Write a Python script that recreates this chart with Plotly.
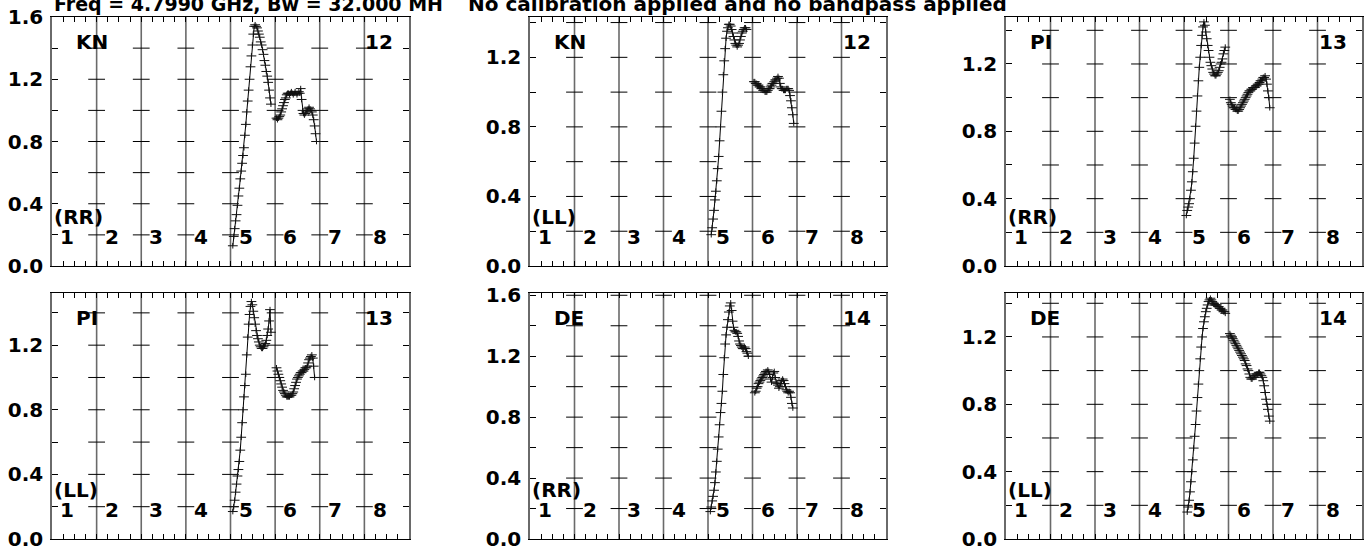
import plotly.graph_objects as go

# ---------------- data ----------------
N_CHAN = 48                     # channels per IF
IF_NAMES = ["1", "2", "3", "4", "5", "6", "7", "8"]
TITLE_LEFT = "Freq = 4.7990 GHz, Bw = 32.000 MH"
TITLE_RIGHT = "No calibration applied and no bandpass applied"

ANTENNAS = ["KN", "KN", "PI", "PI", "DE", "DE"]
ANT_NUMS = ["12", "12", "13", "13", "14", "14"]
POLS = ["(RR)", "(LL)", "(RR)", "(LL)", "(RR)", "(LL)"]
Y_MAX = [1.60, 1.432, 1.479, 1.523, 1.615, 1.461]

# first channel index of each plotted segment
KN_RR_IF5_FIRST, KN_RR_IF6_FIRST = 2, 1
KN_LL_IF5_FIRST, KN_LL_IF6_FIRST = 3, 1
PI_RR_IF5_FIRST, PI_RR_IF6_FIRST = 2, 1
PI_LL_IF5_FIRST, PI_LL_IF6_FIRST = 2, 1
DE_RR_IF5_FIRST, DE_RR_IF6_FIRST = 2, 2
DE_LL_IF5_FIRST, DE_LL_IF6_FIRST = 3, 1

KN_RR_IF5 = [0.13, 0.19, 0.24, 0.29, 0.33, 0.39, 0.45, 0.50, 0.56, 0.61, 0.66, 0.71, 0.76, 0.84,
             0.91, 0.99, 1.06, 1.13, 1.20, 1.28, 1.35, 1.42, 1.49, 1.54, 1.55, 1.54, 1.53, 1.51,
             1.49, 1.47, 1.44, 1.42, 1.39, 1.36, 1.32, 1.29, 1.25, 1.22, 1.18, 1.13, 1.08, 1.04]
KN_RR_IF6 = [0.95, 0.94, 0.95, 0.96, 0.97, 0.99, 1.01, 1.03, 1.05, 1.07, 1.08, 1.10, 1.11, 1.11,
             1.10, 1.11, 1.12, 1.11, 1.10, 1.11, 1.12, 1.11, 1.10, 1.11, 1.12, 1.11, 1.14, 1.07,
             1.00, 0.98, 0.97, 0.98, 0.99, 1.00, 1.01, 1.02, 1.01, 1.00, 0.99, 0.97, 0.94, 0.90,
             0.85, 0.80]
KN_LL_IF5 = [0.18, 0.22, 0.27, 0.32, 0.38, 0.43, 0.49, 0.56, 0.63, 0.72, 0.80, 0.89, 1.00, 1.10,
             1.18, 1.25, 1.31, 1.35, 1.37, 1.39, 1.39, 1.38, 1.36, 1.34, 1.32, 1.30, 1.28, 1.27,
             1.26, 1.27, 1.28, 1.30, 1.32, 1.34, 1.35, 1.36, 1.37, 1.37, 1.36]
KN_LL_IF6 = [1.06, 1.06, 1.05, 1.05, 1.04, 1.04, 1.03, 1.03, 1.02, 1.02, 1.01, 1.01, 1.00, 1.00,
             1.00, 1.01, 1.02, 1.02, 1.03, 1.04, 1.05, 1.05, 1.06, 1.07, 1.07, 1.08, 1.09, 1.08,
             1.05, 1.03, 1.02, 1.02, 1.01, 1.01, 1.01, 1.02, 1.02, 1.02, 1.01, 0.98, 0.95, 0.91,
             0.87, 0.82]
PI_RR_IF5 = [0.30, 0.33, 0.35, 0.37, 0.40, 0.45, 0.50, 0.56, 0.64, 0.73, 0.83, 0.92, 1.01, 1.10,
             1.18, 1.24, 1.31, 1.37, 1.42, 1.45, 1.43, 1.39, 1.35, 1.31, 1.28, 1.24, 1.21, 1.19,
             1.17, 1.15, 1.14, 1.13, 1.13, 1.14, 1.15, 1.16, 1.18, 1.20, 1.21, 1.23, 1.26, 1.28,
             1.30]
PI_RR_IF6 = [0.99, 0.97, 0.96, 0.95, 0.94, 0.94, 0.93, 0.93, 0.92, 0.92, 0.93, 0.94, 0.95, 0.96,
             0.97, 0.98, 0.99, 1.00, 1.01, 1.02, 1.03, 1.04, 1.04, 1.05, 1.05, 1.06, 1.06, 1.06,
             1.07, 1.07, 1.08, 1.08, 1.09, 1.10, 1.10, 1.11, 1.12, 1.12, 1.13, 1.11, 1.08, 1.04,
             1.00, 0.94]
PI_LL_IF5 = [0.17, 0.20, 0.24, 0.29, 0.34, 0.39, 0.43, 0.48, 0.55, 0.63, 0.72, 0.80, 0.88, 0.95,
             1.02, 1.14, 1.25, 1.33, 1.39, 1.44, 1.47, 1.45, 1.41, 1.37, 1.33, 1.29, 1.26, 1.24,
             1.22, 1.20, 1.19, 1.18, 1.18, 1.19, 1.20, 1.21, 1.23, 1.26, 1.30, 1.35, 1.42, 1.28]
PI_LL_IF6 = [1.06, 1.04, 1.02, 1.00, 0.98, 0.96, 0.94, 0.92, 0.91, 0.90, 0.89, 0.88, 0.88, 0.88,
             0.88, 0.89, 0.89, 0.90, 0.91, 0.93, 0.95, 0.97, 0.99, 1.00, 1.01, 1.02, 1.03, 1.03,
             1.04, 1.04, 1.05, 1.06, 1.06, 1.07, 1.09, 1.11, 1.12, 1.13, 1.14, 1.12, 1.07, 1.00]
DE_RR_IF5 = [0.18, 0.21, 0.25, 0.28, 0.32, 0.37, 0.44, 0.51, 0.59, 0.67, 0.75, 0.83, 0.89, 0.97,
             1.08, 1.19, 1.28, 1.34, 1.39, 1.44, 1.49, 1.53, 1.55, 1.50, 1.43, 1.39, 1.37, 1.36,
             1.36, 1.35, 1.33, 1.30, 1.28, 1.27, 1.26, 1.25, 1.25, 1.26, 1.25, 1.23, 1.22, 1.20]
DE_RR_IF6 = [0.96, 0.97, 0.99, 1.00, 1.02, 1.03, 1.04, 1.05, 1.06, 1.07, 1.08, 1.09, 1.10, 1.10,
             1.11, 1.10, 1.08, 1.05, 1.03, 1.06, 1.09, 1.10, 1.06, 1.03, 1.02, 1.01, 0.99, 1.00,
             1.02, 1.04, 1.05, 1.04, 1.02, 1.00, 0.98, 0.97, 0.96, 0.97, 0.96, 0.93, 0.89, 0.86]
DE_LL_IF5 = [0.16, 0.19, 0.23, 0.28, 0.34, 0.40, 0.47, 0.54, 0.61, 0.68, 0.76, 0.84, 0.92, 1.00,
             1.07, 1.14, 1.20, 1.25, 1.29, 1.32, 1.35, 1.37, 1.39, 1.41, 1.42, 1.43, 1.42, 1.41,
             1.40, 1.40, 1.39, 1.39, 1.39, 1.38, 1.38, 1.37, 1.37, 1.36, 1.36, 1.35, 1.35, 1.34]
DE_LL_IF6 = [1.22, 1.21, 1.20, 1.19, 1.18, 1.17, 1.16, 1.15, 1.14, 1.13, 1.12, 1.11, 1.10, 1.09,
             1.08, 1.07, 1.06, 1.04, 1.03, 1.01, 1.00, 0.98, 0.96, 0.95, 0.95, 0.96, 0.96, 0.97,
             0.97, 0.98, 0.98, 0.99, 0.99, 0.98, 0.97, 0.96, 0.94, 0.91, 0.87, 0.83, 0.80, 0.77,
             0.73, 0.70]

SEGMENTS = [
    [(5, KN_RR_IF5_FIRST, KN_RR_IF5), (6, KN_RR_IF6_FIRST, KN_RR_IF6)],
    [(5, KN_LL_IF5_FIRST, KN_LL_IF5), (6, KN_LL_IF6_FIRST, KN_LL_IF6)],
    [(5, PI_RR_IF5_FIRST, PI_RR_IF5), (6, PI_RR_IF6_FIRST, PI_RR_IF6)],
    [(5, PI_LL_IF5_FIRST, PI_LL_IF5), (6, PI_LL_IF6_FIRST, PI_LL_IF6)],
    [(5, DE_RR_IF5_FIRST, DE_RR_IF5), (6, DE_RR_IF6_FIRST, DE_RR_IF6)],
    [(5, DE_LL_IF5_FIRST, DE_LL_IF5), (6, DE_LL_IF6_FIRST, DE_LL_IF6)],
]

# ---------------- layout geometry (pixels) ----------------
W, H = 1369, 554
COLS_PX = [(52, 409), (530, 886), (1006, 1362)]
ROWS_PX = [(17, 266), (293, 539)]
FONT = dict(family="DejaVu Sans, Liberation Sans, Arial", size=20, color="black", weight="bold")
TITLE_FONT_LEFT = dict(FONT, size=19)
SEP_COLOR = "#6a6a6a"
N_IF = len(IF_NAMES)

fig = go.Figure()
layout = dict(width=W, height=H, margin=dict(l=0, r=0, t=0, b=0, pad=0), autosize=False,
              paper_bgcolor="white", plot_bgcolor="white", showlegend=False)
annotations = []
shapes = []

for p in range(6):
    r, c = divmod(p, 3)
    ax = "" if p == 0 else str(p + 1)
    x0, x1 = COLS_PX[c]
    y0, y1 = ROWS_PX[r]
    ymax = Y_MAX[p]
    yvals = [round(0.2 * k, 1) for k in range(0, 10) if 0.2 * k <= ymax + 1e-9]
    ytext = [("%.1f" % v) if (round(v / 0.2) % 2 == 0) else "" for v in yvals]
    xvals = [0.25 * k for k in range(0, 4 * N_IF + 1)]

    layout["xaxis" + ax] = dict(
        domain=[x0 / W, x1 / W], range=[0, N_IF], anchor="y" + ax, automargin=False,
        tickvals=xvals, showticklabels=False, ticks="inside", ticklen=5,
        tickcolor="black", tickwidth=1, showgrid=False, zeroline=False,
        showline=True, linecolor="black", linewidth=1, mirror="ticks", fixedrange=True)
    layout["yaxis" + ax] = dict(
        domain=[(H - y1) / H, (H - y0) / H], range=[0, ymax], anchor="x" + ax,
        automargin=False, tickvals=yvals, ticktext=ytext, ticks="inside", ticklen=6,
        tickcolor="black", tickwidth=1, showgrid=False, zeroline=False, showline=True,
        linecolor=SEP_COLOR, linewidth=1.6, mirror="ticks", tickfont=FONT,
        ticklabelstandoff=3, fixedrange=True)

    xr, yr = "x" + ax, "y" + ax
    # IF separators
    for k in range(1, N_IF):
        shapes.append(dict(type="line", xref=xr, yref=yr + " domain", x0=k, x1=k, y0=0, y1=1,
                           line=dict(color=SEP_COLOR, width=1.6), layer="below"))
    # crossing ticks on interior separators
    tx, ty = [], []
    for k in range(1, N_IF):
        for v in yvals:
            if 0 < v < ymax - 1e-9:
                tx.append(k)
                ty.append(v)
    fig.add_trace(go.Scatter(x=tx, y=ty, xaxis=xr, yaxis=yr, mode="markers", hoverinfo="skip",
                             marker=dict(symbol="line-ew", size=12,
                                         line=dict(color="black", width=1))))

    # data
    xs, ys = [], []
    for (ifn, first, vals) in SEGMENTS[p]:
        for j, v in enumerate(vals):
            xs.append((ifn - 1) + (first + j + 0.5) / N_CHAN)
            ys.append(v)
        xs.append(None)
        ys.append(None)
    fig.add_trace(go.Scatter(x=xs, y=ys, xaxis=xr, yaxis=yr, mode="lines",
                             line=dict(color="black", width=1), connectgaps=False))
    fig.add_trace(go.Scatter(x=xs, y=ys, xaxis=xr, yaxis=yr, mode="markers",
                             marker=dict(symbol="line-ew", size=7,
                                         line=dict(color="#111111", width=1))))
    fig.add_trace(go.Scatter(x=xs, y=ys, xaxis=xr, yaxis=yr, mode="markers",
                             marker=dict(symbol="line-ns", size=4,
                                         line=dict(color="#111111", width=1))))

    # labels
    annotations.append(dict(text=ANTENNAS[p], xref=xr + " domain", yref=yr + " domain",
                            x=0, y=1, xshift=22, yshift=-25, xanchor="left", yanchor="middle",
                            showarrow=False, font=FONT))
    annotations.append(dict(text=ANT_NUMS[p], xref=xr, yref=yr + " domain",
                            x=N_IF - 1, y=1, xshift=-1, yshift=-25, xanchor="left",
                            yanchor="middle", showarrow=False, font=FONT))
    annotations.append(dict(text=POLS[p], xref=xr + " domain", yref=yr + " domain",
                            x=0, y=0, xshift=0, yshift=49, xanchor="left", yanchor="middle",
                            showarrow=False, font=FONT))
    for k, name in enumerate(IF_NAMES):
        annotations.append(dict(text=name, xref=xr, yref=yr + " domain",
                                x=k + 0.34, y=0, yshift=29, xanchor="center",
                                yanchor="middle", showarrow=False, font=FONT))

annotations.append(dict(text=TITLE_LEFT, xref="paper", yref="paper", x=52 / W, y=1 - 4 / H,
                        xanchor="left", yanchor="middle", showarrow=False, font=TITLE_FONT_LEFT))
annotations.append(dict(text=TITLE_RIGHT, xref="paper", yref="paper", x=466 / W, y=1 - 4 / H,
                        xanchor="left", yanchor="middle", showarrow=False, font=FONT))

layout["annotations"] = annotations
layout["shapes"] = shapes
fig.update_layout(**layout)
fig.write_html("out.html", config={"displayModeBar": False},
               post_script="document.body.style.margin='0';")
